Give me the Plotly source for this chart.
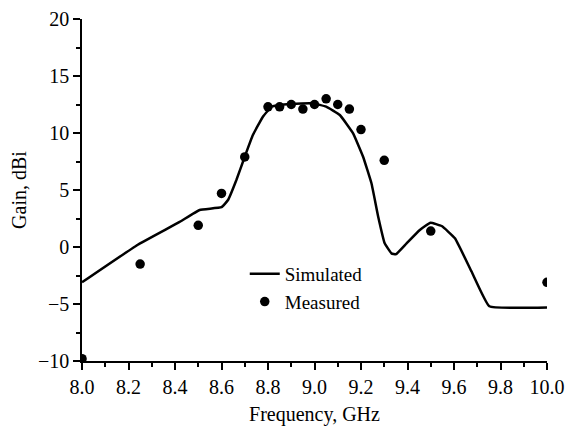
import plotly.graph_objects as go

sim_freq = [8.0, 8.24, 8.42, 8.506, 8.6, 8.628, 8.664, 8.70, 8.735, 8.778, 8.815, 8.85, 8.893, 8.994,
            9.05, 9.109, 9.166, 9.209, 9.245, 9.274, 9.302, 9.331, 9.35, 9.396, 9.453, 9.499,
            9.547, 9.604, 9.676, 9.752, 10.0]
sim_gain = [-3.1, 0.2, 2.2, 3.25, 3.49, 4.12, 5.88, 7.92, 9.82, 11.43, 12.31, 12.46, 12.54, 12.6,
            12.31, 11.58, 9.97, 7.92, 5.59, 2.66, 0.32, -0.56, -0.64, 0.32, 1.49, 2.13,
            1.84, 0.76, -2.17, -5.2, -5.3]

meas_freq = [8.0, 8.25, 8.5, 8.6, 8.7, 8.8, 8.85, 8.9, 8.95, 9.0, 9.05, 9.1, 9.15, 9.2, 9.3, 9.5, 10.0]
meas_gain = [-9.8, -1.5, 1.9, 4.7, 7.9, 12.3, 12.3, 12.5, 12.1, 12.5, 13.0, 12.5, 12.1, 10.3, 7.6, 1.4, -3.1]

x_ticks = [8.0, 8.2, 8.4, 8.6, 8.8, 9.0, 9.2, 9.4, 9.6, 9.8, 10.0]
y_ticks = [-10, -5, 0, 5, 10, 15, 20]

FONT = "Liberation Serif, Times New Roman, serif"
FS = 20

fig = go.Figure()
fig.add_trace(go.Scatter(x=sim_freq, y=sim_gain, mode="lines", name="Simulated",
                         line=dict(color="black", width=2.5, shape="spline", smoothing=0.3)))
fig.add_trace(go.Scatter(x=meas_freq, y=meas_gain, mode="markers", name="Measured",
                         marker=dict(color="black", size=9.5)))

fig.update_layout(
    width=567, height=426,
    margin=dict(l=82, r=20, t=19, b=65),
    paper_bgcolor="white", plot_bgcolor="white",
    font=dict(family=FONT, size=FS, color="black"),
    legend=dict(x=0.35, y=0.31, xanchor="left", yanchor="top",
                bgcolor="rgba(0,0,0,0)", font=dict(family=FONT, size=19),
                tracegroupgap=0, itemwidth=30),
    showlegend=True,
)
fig.update_xaxes(range=[8.0, 10.0], tickvals=x_ticks, automargin=False,
                 tickformat=".1f", showline=True, linecolor="black", linewidth=1.5,
                 ticks="outside", ticklen=7, tickwidth=1.5, tickcolor="black",
                 minor=dict(dtick=0.1, ticks="outside", ticklen=4, tickwidth=1.5, tickcolor="black"),
                 showgrid=False, zeroline=False,
                 title=dict(text="Frequency, GHz", font=dict(family=FONT, size=FS), standoff=18),
                 tickfont=dict(family=FONT, size=FS))
fig.update_yaxes(range=[-10, 20], tickvals=y_ticks, automargin=False,
                 showline=True, linecolor="black", linewidth=1.5,
                 ticks="outside", ticklen=7, tickwidth=1.5, tickcolor="black",
                 minor=dict(dtick=2.5, ticks="outside", ticklen=4, tickwidth=1.5, tickcolor="black"),
                 showgrid=False, zeroline=False,
                 title=dict(text="Gain, dBi", font=dict(family=FONT, size=FS), standoff=6),
                 tickfont=dict(family=FONT, size=FS))

fig.write_html("out.html")
